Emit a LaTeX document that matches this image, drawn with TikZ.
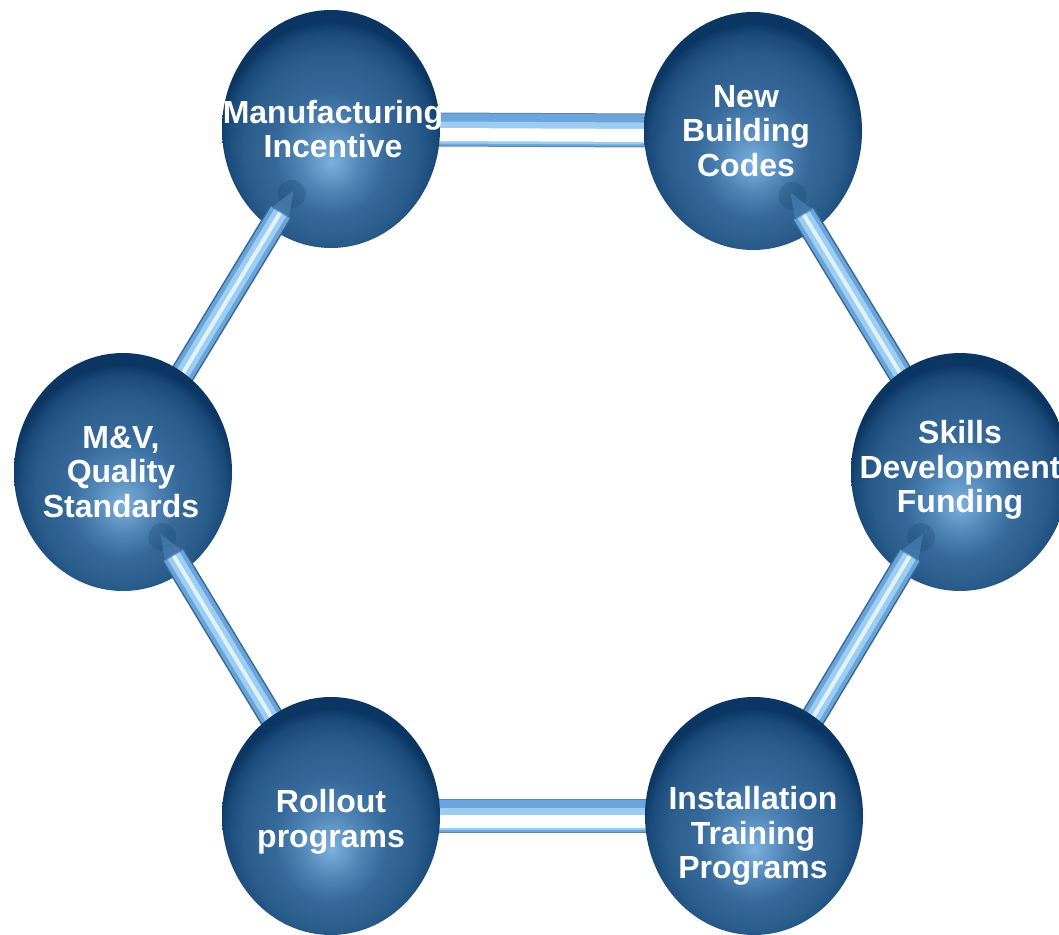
\documentclass[tikz,border=0pt]{standalone}
\usepackage{fontspec}
\setmainfont{Liberation Sans}
\usetikzlibrary{shapes.geometric,calc}
\definecolor{sHi}{HTML}{7CB1DD}
\definecolor{sOne}{HTML}{5085B6}
\definecolor{sTwo}{HTML}{36699A}
\definecolor{sThree}{HTML}{2A5C8B}
\definecolor{sFour}{HTML}{1A4A79}
\definecolor{sEdge}{HTML}{0B3663}
\definecolor{barEdge}{HTML}{34689A}
\definecolor{barMid}{HTML}{69A3D8}
\definecolor{barLight}{HTML}{9CCDF2}
\definecolor{barGlow}{HTML}{E2F3FF}
\definecolor{hbarEdge}{HTML}{5F84A8}
\definecolor{hbarMid}{HTML}{6AA6DC}
\definecolor{hbarLight}{HTML}{9CCCF1}
\definecolor{coneCol}{HTML}{4A80B3}
\pgfdeclareradialshading{spheresh}{\pgfpoint{0bp}{-7bp}}{%
  color(0bp)=(sHi); color(7bp)=(sOne); color(13bp)=(sTwo);
  color(20bp)=(sThree); color(24bp)=(sFour); color(26bp)=(sEdge);
  color(50bp)=(sEdge)}
\pgfdeclarelayer{Lzero}
\pgfdeclarelayer{Lone}
\pgfdeclarelayer{Ltwo}
\pgfdeclarelayer{Lthree}
\pgfdeclarelayer{Lfour}
\pgfdeclarelayer{Lfive}
\pgfsetlayers{Lzero,Lone,Ltwo,Lthree,Lfour,Lfive,main}
\tikzset{
  ball/.style={ellipse, minimum width=218pt, minimum height=238pt,
    inner sep=0pt, shading=spheresh, draw=none},
  txt/.style={text=white, font=\fontsize{32}{34.5}\selectfont\bfseries,
    align=center, inner sep=0pt},
  cone/.style={fill=coneCol, fill opacity=0.7},
  tipspot/.style={fill=sEdge, fill opacity=0.22}
}
\newcommand\diagbar[2]{%
  \foreach \w/\c in {25/barEdge,22/barMid,14/barLight,4/barGlow}{%
    \draw[line width=\w pt, draw=\c, shorten >=97pt] (#1.center) -- (#2.center);}%
  \fill[tipspot] ($(#2)!76pt!(#1)$) circle (14pt);
  \fill[cone] ($(#2)!98pt!(#1)!10pt!90:(#1)$) -- ($(#2)!72pt!(#1)$)
     -- ($(#2)!98pt!(#1)!10pt!-90:(#1)$) -- cycle;}
\newcommand\horbar[2]{%
  \draw[line width=34pt, draw=hbarEdge] (#1.center) -- (#2.center);
  \draw[line width=32pt, draw=hbarMid] (#1.center) -- (#2.center);
  \draw[line width=22pt, draw=hbarLight, transform canvas={yshift=-3pt}] (#1.center) -- (#2.center);
  \draw[line width=13pt, draw=white, transform canvas={yshift=-5pt}] (#1.center) -- (#2.center);}
\begin{document}
\begin{tikzpicture}[x=1pt,y=-1pt]
\useasboundingbox (0,0) rectangle (1059,934);
\clip (0,0) rectangle (1059,934);
% spheres
\begin{pgfonlayer}{Lone}
  \node[ball] (mfg) at (331,129) {};
  \node[ball] (nbc) at (753,131) {};
\end{pgfonlayer}
\begin{pgfonlayer}{Lthree}
  \node[ball] (mv)  at (123,472) {};
  \node[ball] (skl) at (960,472) {};
\end{pgfonlayer}
\begin{pgfonlayer}{Lfive}
  \node[ball] (rol) at (331,816) {};
  \node[ball] (ins) at (754,816) {};
\end{pgfonlayer}
% connectors
\begin{pgfonlayer}{Lzero}
  \horbar{mfg}{nbc}
  \horbar{rol}{ins}
\end{pgfonlayer}
\begin{pgfonlayer}{Ltwo}
  \diagbar{mv}{mfg}
  \diagbar{skl}{nbc}
\end{pgfonlayer}
\begin{pgfonlayer}{Lfour}
  \diagbar{rol}{mv}
  \diagbar{ins}{skl}
\end{pgfonlayer}
% labels
\node[txt] (mfgt) at (333,129) {Manufacturing\\Incentive};
\node[txt] (nbct) at (746,131) {New\\Building\\Codes};
\node[txt] (mvt)  at (121,472) {M\&V,\\Quality\\Standards};
\node[txt] (sklt) at (960,470) {Skills\\Development\\Funding};
\node[txt] (rolt) at (331,822) {Rollout\\programs};
\node[txt] (inst) at (753,836) {Installation\\Training\\Programs};
\end{tikzpicture}
\end{document}
